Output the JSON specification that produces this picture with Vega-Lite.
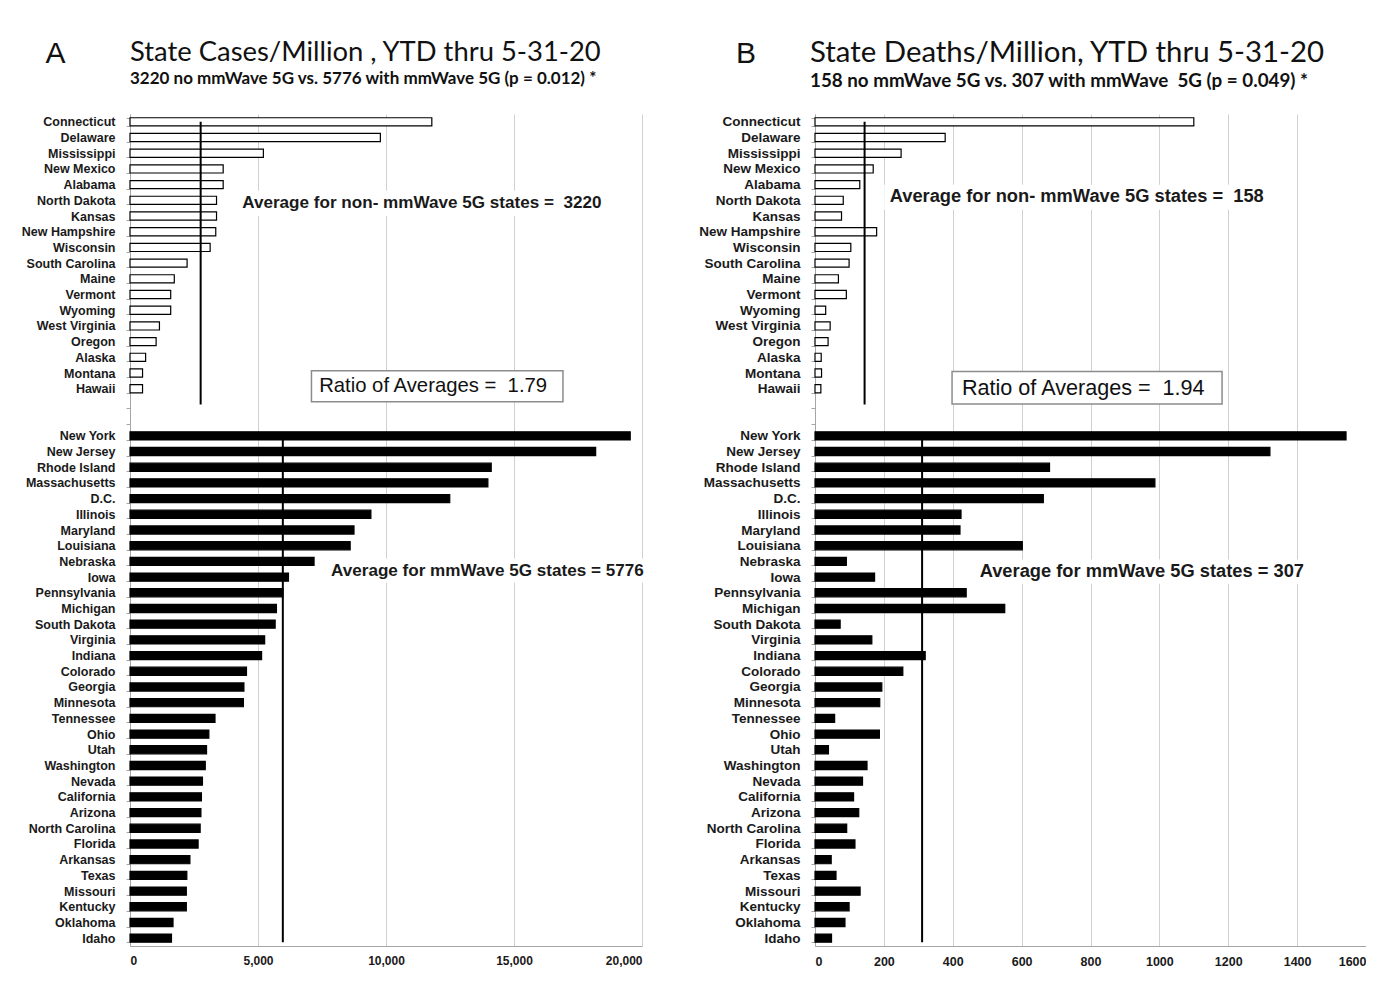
{
  "$schema": "https://vega.github.io/schema/vega-lite/v6.json",
  "background": "white",
  "padding": {"left": 0, "top": 37, "right": 0, "bottom": 0},
  "autosize": {"type": "pad"},
  "bounds": "flush",
  "spacing": 173,
  "config": {
    "view": {"stroke": null},
    "font": "Liberation Sans",
    "axis": {"labelFont": "Liberation Sans", "labelFontWeight": "bold", "labelColor": "#1a1a1a", "domainColor": "#a6a6a6", "tickColor": "#a6a6a6", "gridColor": "#d0d0d0", "gridWidth": 1}
  },
  "datasets": {
    "cases": [
      {"state": "Connecticut", "value": 11790, "grp": "no mmWave 5G"},
      {"state": "Delaware", "value": 9780, "grp": "no mmWave 5G"},
      {"state": "Mississippi", "value": 5210, "grp": "no mmWave 5G"},
      {"state": "New Mexico", "value": 3640, "grp": "no mmWave 5G"},
      {"state": "Alabama", "value": 3640, "grp": "no mmWave 5G"},
      {"state": "North Dakota", "value": 3380, "grp": "no mmWave 5G"},
      {"state": "Kansas", "value": 3380, "grp": "no mmWave 5G"},
      {"state": "New Hampshire", "value": 3350, "grp": "no mmWave 5G"},
      {"state": "Wisconsin", "value": 3130, "grp": "no mmWave 5G"},
      {"state": "South Carolina", "value": 2230, "grp": "no mmWave 5G"},
      {"state": "Maine", "value": 1730, "grp": "no mmWave 5G"},
      {"state": "Vermont", "value": 1590, "grp": "no mmWave 5G"},
      {"state": "Wyoming", "value": 1590, "grp": "no mmWave 5G"},
      {"state": "West Virginia", "value": 1150, "grp": "no mmWave 5G"},
      {"state": "Oregon", "value": 1020, "grp": "no mmWave 5G"},
      {"state": "Alaska", "value": 610, "grp": "no mmWave 5G"},
      {"state": "Montana", "value": 490, "grp": "no mmWave 5G"},
      {"state": "Hawaii", "value": 490, "grp": "no mmWave 5G"},
      {"state": "New York", "value": 19540, "grp": "mmWave 5G"},
      {"state": "New Jersey", "value": 18190, "grp": "mmWave 5G"},
      {"state": "Rhode Island", "value": 14110, "grp": "mmWave 5G"},
      {"state": "Massachusetts", "value": 13980, "grp": "mmWave 5G"},
      {"state": "D.C.", "value": 12490, "grp": "mmWave 5G"},
      {"state": "Illinois", "value": 9410, "grp": "mmWave 5G"},
      {"state": "Maryland", "value": 8750, "grp": "mmWave 5G"},
      {"state": "Louisiana", "value": 8600, "grp": "mmWave 5G"},
      {"state": "Nebraska", "value": 7190, "grp": "mmWave 5G"},
      {"state": "Iowa", "value": 6190, "grp": "mmWave 5G"},
      {"state": "Pennsylvania", "value": 5970, "grp": "mmWave 5G"},
      {"state": "Michigan", "value": 5720, "grp": "mmWave 5G"},
      {"state": "South Dakota", "value": 5670, "grp": "mmWave 5G"},
      {"state": "Virginia", "value": 5260, "grp": "mmWave 5G"},
      {"state": "Indiana", "value": 5140, "grp": "mmWave 5G"},
      {"state": "Colorado", "value": 4550, "grp": "mmWave 5G"},
      {"state": "Georgia", "value": 4450, "grp": "mmWave 5G"},
      {"state": "Minnesota", "value": 4430, "grp": "mmWave 5G"},
      {"state": "Tennessee", "value": 3320, "grp": "mmWave 5G"},
      {"state": "Ohio", "value": 3080, "grp": "mmWave 5G"},
      {"state": "Utah", "value": 2990, "grp": "mmWave 5G"},
      {"state": "Washington", "value": 2940, "grp": "mmWave 5G"},
      {"state": "Nevada", "value": 2830, "grp": "mmWave 5G"},
      {"state": "California", "value": 2790, "grp": "mmWave 5G"},
      {"state": "Arizona", "value": 2770, "grp": "mmWave 5G"},
      {"state": "North Carolina", "value": 2740, "grp": "mmWave 5G"},
      {"state": "Florida", "value": 2660, "grp": "mmWave 5G"},
      {"state": "Arkansas", "value": 2340, "grp": "mmWave 5G"},
      {"state": "Texas", "value": 2220, "grp": "mmWave 5G"},
      {"state": "Missouri", "value": 2200, "grp": "mmWave 5G"},
      {"state": "Kentucky", "value": 2200, "grp": "mmWave 5G"},
      {"state": "Oklahoma", "value": 1680, "grp": "mmWave 5G"},
      {"state": "Idaho", "value": 1620, "grp": "mmWave 5G"}
    ],
    "deaths": [
      {"state": "Connecticut", "value": 1100, "grp": "no mmWave 5G"},
      {"state": "Delaware", "value": 378, "grp": "no mmWave 5G"},
      {"state": "Mississippi", "value": 250, "grp": "no mmWave 5G"},
      {"state": "New Mexico", "value": 169, "grp": "no mmWave 5G"},
      {"state": "Alabama", "value": 130, "grp": "no mmWave 5G"},
      {"state": "North Dakota", "value": 82, "grp": "no mmWave 5G"},
      {"state": "Kansas", "value": 77, "grp": "no mmWave 5G"},
      {"state": "New Hampshire", "value": 179, "grp": "no mmWave 5G"},
      {"state": "Wisconsin", "value": 104, "grp": "no mmWave 5G"},
      {"state": "South Carolina", "value": 99, "grp": "no mmWave 5G"},
      {"state": "Maine", "value": 68, "grp": "no mmWave 5G"},
      {"state": "Vermont", "value": 91, "grp": "no mmWave 5G"},
      {"state": "Wyoming", "value": 31, "grp": "no mmWave 5G"},
      {"state": "West Virginia", "value": 44, "grp": "no mmWave 5G"},
      {"state": "Oregon", "value": 38, "grp": "no mmWave 5G"},
      {"state": "Alaska", "value": 18, "grp": "no mmWave 5G"},
      {"state": "Montana", "value": 19, "grp": "no mmWave 5G"},
      {"state": "Hawaii", "value": 17, "grp": "no mmWave 5G"},
      {"state": "New York", "value": 1542, "grp": "mmWave 5G"},
      {"state": "New Jersey", "value": 1321, "grp": "mmWave 5G"},
      {"state": "Rhode Island", "value": 681, "grp": "mmWave 5G"},
      {"state": "Massachusetts", "value": 987, "grp": "mmWave 5G"},
      {"state": "D.C.", "value": 663, "grp": "mmWave 5G"},
      {"state": "Illinois", "value": 424, "grp": "mmWave 5G"},
      {"state": "Maryland", "value": 421, "grp": "mmWave 5G"},
      {"state": "Louisiana", "value": 602, "grp": "mmWave 5G"},
      {"state": "Nebraska", "value": 91, "grp": "mmWave 5G"},
      {"state": "Iowa", "value": 173, "grp": "mmWave 5G"},
      {"state": "Pennsylvania", "value": 439, "grp": "mmWave 5G"},
      {"state": "Michigan", "value": 551, "grp": "mmWave 5G"},
      {"state": "South Dakota", "value": 73, "grp": "mmWave 5G"},
      {"state": "Virginia", "value": 165, "grp": "mmWave 5G"},
      {"state": "Indiana", "value": 320, "grp": "mmWave 5G"},
      {"state": "Colorado", "value": 255, "grp": "mmWave 5G"},
      {"state": "Georgia", "value": 194, "grp": "mmWave 5G"},
      {"state": "Minnesota", "value": 188, "grp": "mmWave 5G"},
      {"state": "Tennessee", "value": 57, "grp": "mmWave 5G"},
      {"state": "Ohio", "value": 187, "grp": "mmWave 5G"},
      {"state": "Utah", "value": 39, "grp": "mmWave 5G"},
      {"state": "Washington", "value": 151, "grp": "mmWave 5G"},
      {"state": "Nevada", "value": 138, "grp": "mmWave 5G"},
      {"state": "California", "value": 112, "grp": "mmWave 5G"},
      {"state": "Arizona", "value": 127, "grp": "mmWave 5G"},
      {"state": "North Carolina", "value": 92, "grp": "mmWave 5G"},
      {"state": "Florida", "value": 116, "grp": "mmWave 5G"},
      {"state": "Arkansas", "value": 47, "grp": "mmWave 5G"},
      {"state": "Texas", "value": 61, "grp": "mmWave 5G"},
      {"state": "Missouri", "value": 131, "grp": "mmWave 5G"},
      {"state": "Kentucky", "value": 99, "grp": "mmWave 5G"},
      {"state": "Oklahoma", "value": 87, "grp": "mmWave 5G"},
      {"state": "Idaho", "value": 48, "grp": "mmWave 5G"}
    ]
  },
  "hconcat": [
    {
      "width": 512,
      "height": 832,
      "title": {
        "text": "State Cases/Million , YTD thru 5-31-20",
        "subtitle": "3220 no mmWave 5G vs. 5776 with mmWave 5G (p = 0.012) *",
        "anchor": "start", "frame": "group",
        "font": "Lato", "fontSize": 27.4, "fontWeight": "normal", "color": "#111111",
        "subtitleFont": "Lato", "subtitleFontSize": 17, "subtitleFontWeight": "bold", "subtitleColor": "#111111",
        "subtitlePadding": 5, "offset": -49
      },
      "encoding": {
        "y": {
          "field": "state", "type": "nominal",
          "scale": {"domain": ["Connecticut","Delaware","Mississippi","New Mexico","Alabama","North Dakota","Kansas","New Hampshire","Wisconsin","South Carolina","Maine","Vermont","Wyoming","West Virginia","Oregon","Alaska","Montana","Hawaii"," ","  ","New York","New Jersey","Rhode Island","Massachusetts","D.C.","Illinois","Maryland","Louisiana","Nebraska","Iowa","Pennsylvania","Michigan","South Dakota","Virginia","Indiana","Colorado","Georgia","Minnesota","Tennessee","Ohio","Utah","Washington","Nevada","California","Arizona","North Carolina","Florida","Arkansas","Texas","Missouri","Kentucky","Oklahoma","Idaho"], "paddingInner": 0.48, "paddingOuter": 0.24},
          "axis": {"title": "A", "titleAngle": 0, "titleX": -75, "titleY": -52, "titleFontSize": 30, "titleFontWeight": "normal", "titleFont": "Liberation Sans", "titleColor": "#111111", "titleAlign": "center", "titleBaseline": "alphabetic", "labelFontSize": 12.5, "tickBand": "extent", "tickSize": 4, "labelPadding": 11, "grid": false, "minExtent": 130, "maxExtent": 130}
        },
        "x": {
          "field": "value", "type": "quantitative",
          "scale": {"domain": [0, 20000], "nice": false},
          "axis": {"values": [0, 5000, 10000, 15000, 20000], "format": ",d", "title": null, "grid": true, "ticks": false, "labelFontSize": 12, "labelPadding": 9}
        }
      },
      "layer": [
        {
          "data": {"values": [{"state": "North Dakota", "value": 11400}]},
          "mark": {"type": "point", "shape": "M-1,-0.068L1,-0.068L1,0.068L-1,0.068Z", "size": 136900, "filled": true, "fill": "white", "strokeWidth": 0, "opacity": 1, "yOffset": 3}
        },
        {
          "data": {"values": [{"state": "Iowa", "value": 13960}]},
          "mark": {"type": "point", "shape": "M-1,-0.075L1,-0.075L1,0.075L-1,0.075Z", "size": 103684, "filled": true, "fill": "white", "strokeWidth": 0, "opacity": 1, "yOffset": -6.5}
        },
        {
          "data": {"name": "cases"},
          "mark": {"type": "bar", "stroke": "black", "strokeWidth": 1.2},
          "encoding": {
            "fill": {"field": "grp", "type": "nominal", "scale": {"domain": ["no mmWave 5G", "mmWave 5G"], "range": ["white", "black"]}, "legend": null}
          }
        },
        {
          "data": {"values": [{"state": "Connecticut", "state2": " ", "value": 2760}]},
          "mark": {"type": "rule", "color": "black", "strokeWidth": 2},
          "encoding": {"y2": {"field": "state2"}}
        },
        {
          "data": {"values": [{"state": "New York", "state2": "Idaho", "value": 5970}]},
          "mark": {"type": "rule", "color": "black", "strokeWidth": 2},
          "encoding": {"y2": {"field": "state2", "bandPosition": 1}}
        },
        {
          "data": {"values": [{"state": "Hawaii", "value": 12000}]},
          "mark": {"type": "point", "shape": "M-1,-0.123L1,-0.123L1,0.123L-1,0.123Z", "size": 63252, "filled": true, "fill": "white", "stroke": "#8c8c8c", "strokeWidth": 1.5, "opacity": 1, "yOffset": -2.5}
        },
        {
          "data": {"values": [{"state": "North Dakota", "value": 11400, "label": "Average for non- mmWave 5G states =\u00a0 3220"}]},
          "mark": {"type": "text", "font": "Liberation Sans", "fontWeight": "bold", "fontSize": 17.1, "color": "#1a1a1a", "align": "center", "baseline": "middle", "dy": 3},
          "encoding": {"text": {"field": "label"}}
        },
        {
          "data": {"values": [{"state": "Iowa", "value": 13960, "label": "Average for mmWave 5G states = 5776"}]},
          "mark": {"type": "text", "font": "Liberation Sans", "fontWeight": "bold", "fontSize": 17.1, "color": "#1a1a1a", "align": "center", "baseline": "middle", "dy": -6.5},
          "encoding": {"text": {"field": "label"}}
        },
        {
          "data": {"values": [{"state": "Hawaii", "value": 11840, "label": "Ratio of Averages =\u00a0 1.79"}]},
          "mark": {"type": "text", "font": "Liberation Sans", "fontWeight": "normal", "fontSize": 20.3, "color": "#111111", "align": "center", "baseline": "middle", "dy": -3},
          "encoding": {"text": {"field": "label"}}
        }
      ]
    },
    {
      "width": 551,
      "height": 832,
      "title": {
        "text": "State Deaths/Million, YTD thru 5-31-20",
        "subtitle": "158 no mmWave 5G vs. 307 with mmWave\u00a0 5G (p = 0.049) *",
        "anchor": "start", "frame": "group", "dx": -5,
        "font": "Lato", "fontSize": 29.4, "fontWeight": "normal", "color": "#111111",
        "subtitleFont": "Lato", "subtitleFontSize": 18.8, "subtitleFontWeight": "bold", "subtitleColor": "#111111",
        "subtitlePadding": 4, "offset": -54
      },
      "encoding": {
        "y": {
          "field": "state", "type": "nominal",
          "scale": {"domain": ["Connecticut","Delaware","Mississippi","New Mexico","Alabama","North Dakota","Kansas","New Hampshire","Wisconsin","South Carolina","Maine","Vermont","Wyoming","West Virginia","Oregon","Alaska","Montana","Hawaii"," ","  ","New York","New Jersey","Rhode Island","Massachusetts","D.C.","Illinois","Maryland","Louisiana","Nebraska","Iowa","Pennsylvania","Michigan","South Dakota","Virginia","Indiana","Colorado","Georgia","Minnesota","Tennessee","Ohio","Utah","Washington","Nevada","California","Arizona","North Carolina","Florida","Arkansas","Texas","Missouri","Kentucky","Oklahoma","Idaho"], "paddingInner": 0.48, "paddingOuter": 0.24},
          "axis": {"title": "B", "titleAngle": 0, "titleX": -69.5, "titleY": -52, "titleFontSize": 30, "titleFontWeight": "normal", "titleFont": "Liberation Sans", "titleColor": "#111111", "titleAlign": "center", "titleBaseline": "alphabetic", "labelFontSize": 13.5, "tickBand": "extent", "tickSize": 4, "labelPadding": 11, "grid": false}
        },
        "x": {
          "field": "value", "type": "quantitative",
          "scale": {"domain": [0, 1600], "nice": false},
          "axis": {"values": [0, 200, 400, 600, 800, 1000, 1200, 1400, 1600], "format": "d", "title": null, "grid": true, "ticks": false, "labelFontSize": 12.5, "labelPadding": 9}
        }
      },
      "layer": [
        {
          "data": {"values": [{"state": "North Dakota", "value": 760}]},
          "mark": {"type": "point", "shape": "M-1,-0.065L1,-0.065L1,0.065L-1,0.065Z", "size": 148225, "filled": true, "fill": "white", "strokeWidth": 0, "opacity": 1, "yOffset": -3}
        },
        {
          "data": {"values": [{"state": "Iowa", "value": 949}]},
          "mark": {"type": "point", "shape": "M-1,-0.072L1,-0.072L1,0.072L-1,0.072Z", "size": 112225, "filled": true, "fill": "white", "strokeWidth": 0, "opacity": 1, "yOffset": -5.5}
        },
        {
          "data": {"name": "deaths"},
          "mark": {"type": "bar", "stroke": "black", "strokeWidth": 1.2},
          "encoding": {
            "fill": {"field": "grp", "type": "nominal", "scale": {"domain": ["no mmWave 5G", "mmWave 5G"], "range": ["white", "black"]}, "legend": null}
          }
        },
        {
          "data": {"values": [{"state": "Connecticut", "state2": " ", "value": 144}]},
          "mark": {"type": "rule", "color": "black", "strokeWidth": 2},
          "encoding": {"y2": {"field": "state2"}}
        },
        {
          "data": {"values": [{"state": "New York", "state2": "Idaho", "value": 311}]},
          "mark": {"type": "rule", "color": "black", "strokeWidth": 2},
          "encoding": {"y2": {"field": "state2", "bandPosition": 1}}
        },
        {
          "data": {"values": [{"state": "Hawaii", "value": 790}]},
          "mark": {"type": "point", "shape": "M-1,-0.121L1,-0.121L1,0.121L-1,0.121Z", "size": 72900, "filled": true, "fill": "white", "stroke": "#8c8c8c", "strokeWidth": 1.5, "opacity": 1, "yOffset": -1}
        },
        {
          "data": {"values": [{"state": "North Dakota", "value": 760, "label": "Average for non- mmWave 5G states =\u00a0 158"}]},
          "mark": {"type": "text", "font": "Liberation Sans", "fontWeight": "bold", "fontSize": 18.3, "color": "#1a1a1a", "align": "center", "baseline": "middle", "dy": -3},
          "encoding": {"text": {"field": "label"}}
        },
        {
          "data": {"values": [{"state": "Iowa", "value": 949, "label": "Average for mmWave 5G states = 307"}]},
          "mark": {"type": "text", "font": "Liberation Sans", "fontWeight": "bold", "fontSize": 18.3, "color": "#1a1a1a", "align": "center", "baseline": "middle", "dy": -5.5},
          "encoding": {"text": {"field": "label"}}
        },
        {
          "data": {"values": [{"state": "Hawaii", "value": 779, "label": "Ratio of Averages =\u00a0 1.94"}]},
          "mark": {"type": "text", "font": "Liberation Sans", "fontWeight": "normal", "fontSize": 21.6, "color": "#111111", "align": "center", "baseline": "middle", "dy": 0},
          "encoding": {"text": {"field": "label"}}
        }
      ]
    }
  ]
}
